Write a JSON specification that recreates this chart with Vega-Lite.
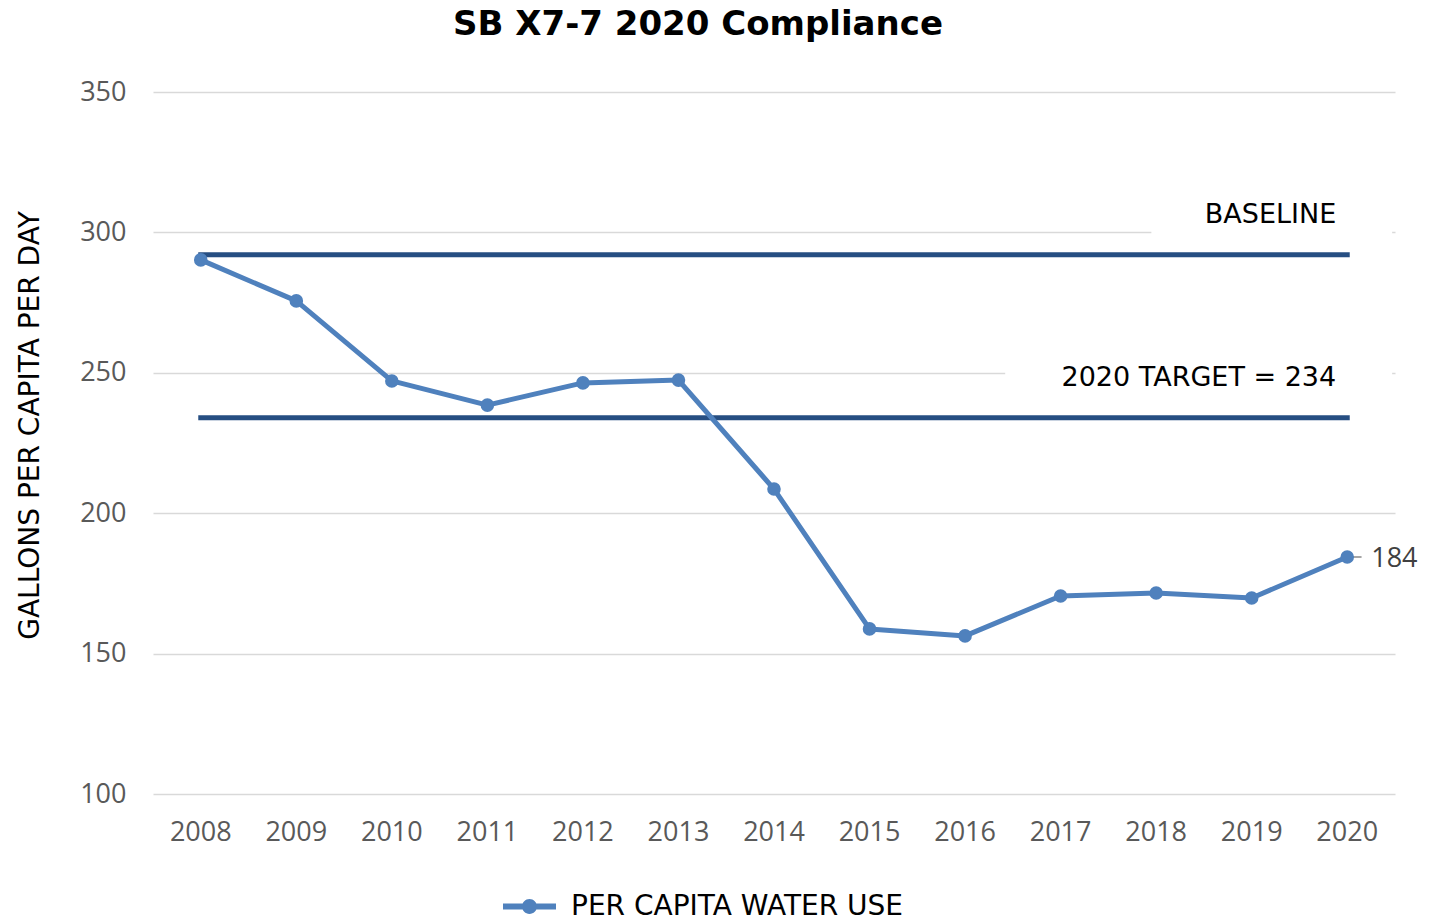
{
  "$schema": "https://vega.github.io/schema/vega-lite/v6.json",
  "width": 1242,
  "height": 702,
  "autosize": {"type": "none"},
  "padding": {"left": 153, "top": 92, "right": 44, "bottom": 126},
  "background": "#ffffff",
  "config": {"view": {"stroke": null}},
  "title": {
    "text": "SB X7-7 2020 Compliance",
    "font": "DejaVu Sans",
    "fontSize": 34,
    "fontWeight": "bold",
    "color": "#000000",
    "anchor": "middle",
    "frame": "group",
    "dx": -76,
    "offset": 36
  },
  "datasets": {
    "use": [
      {"year": "2008", "gpcd": 290.2},
      {"year": "2009", "gpcd": 275.6},
      {"year": "2010", "gpcd": 247.1},
      {"year": "2011", "gpcd": 238.5},
      {"year": "2012", "gpcd": 246.4},
      {"year": "2013", "gpcd": 247.4},
      {"year": "2014", "gpcd": 208.6},
      {"year": "2015", "gpcd": 158.8},
      {"year": "2016", "gpcd": 156.3},
      {"year": "2017", "gpcd": 170.5},
      {"year": "2018", "gpcd": 171.6},
      {"year": "2019", "gpcd": 169.8},
      {"year": "2020", "gpcd": 184.4}
    ],
    "refs": [
      {"year": "2008", "ref": "BASELINE", "gpcd": 292},
      {"year": "2020", "ref": "BASELINE", "gpcd": 292},
      {"year": "2008", "ref": "TARGET", "gpcd": 234},
      {"year": "2020", "ref": "TARGET", "gpcd": 234}
    ],
    "reflabels": [
      {"year": "2020", "label": "BASELINE", "gpcd": 292},
      {"year": "2020", "label": "2020 TARGET = 234", "gpcd": 234}
    ]
  },
  "layer": [
    {
      "data": {"values": [{"start": "2018", "end": "2020", "lo": 297, "hi": 303}]},
      "mark": {"type": "rect", "color": "#ffffff"},
      "encoding": {
        "x": {"field": "start", "type": "ordinal", "bandPosition": 0.45},
        "x2": {"field": "end", "bandPosition": 0.97},
        "y": {"field": "lo", "type": "quantitative"},
        "y2": {"field": "hi"}
      }
    },
    {
      "data": {"values": [{"start": "2016", "end": "2020", "lo": 247, "hi": 253}]},
      "mark": {"type": "rect", "color": "#ffffff"},
      "encoding": {
        "x": {"field": "start", "type": "ordinal", "bandPosition": 0.92},
        "x2": {"field": "end", "bandPosition": 0.97},
        "y": {"field": "lo", "type": "quantitative"},
        "y2": {"field": "hi"}
      }
    },
    {
      "data": {"name": "refs"},
      "mark": {"type": "line", "color": "#264E82", "strokeWidth": 5, "strokeCap": "square"},
      "encoding": {
        "x": {"field": "year", "type": "ordinal"},
        "y": {"field": "gpcd", "type": "quantitative"},
        "detail": {"field": "ref"}
      }
    },
    {
      "data": {"name": "reflabels"},
      "mark": {"type": "text", "align": "right", "baseline": "alphabetic", "dx": -11, "dy": -32, "font": "DejaVu Sans", "fontSize": 27, "color": "#000000"},
      "encoding": {
        "x": {"field": "year", "type": "ordinal"},
        "y": {"field": "gpcd", "type": "quantitative"},
        "text": {"field": "label"}
      }
    },
    {
      "data": {"name": "use"},
      "transform": [{"filter": "datum.year == '2020'"}],
      "mark": {"type": "rule", "color": "#A6A6A6", "strokeWidth": 2},
      "encoding": {
        "x": {"field": "year", "type": "ordinal", "bandPosition": 0.5},
        "x2": {"field": "year", "bandPosition": 0.65},
        "y": {"field": "gpcd", "type": "quantitative"}
      }
    },
    {
      "data": {"name": "use"},
      "mark": {"type": "line", "strokeWidth": 5, "strokeJoin": "round"},
      "encoding": {
        "x": {"field": "year", "type": "ordinal"},
        "y": {"field": "gpcd", "type": "quantitative"},
        "color": {
          "datum": "PER CAPITA WATER USE",
          "type": "nominal",
          "scale": {"range": ["#4F81BD"]},
          "legend": {
            "title": null,
            "orient": "none",
            "legendX": 350,
            "legendY": 788,
            "padding": 0,
            "symbolType": "M-1,-0.11L1,-0.11L1,0.11L-1,0.11Z M0.28,0A0.28,0.28 0 1,1 -0.28,0A0.28,0.28 0 1,1 0.28,0Z",
            "symbolSize": 2809,
            "symbolStrokeWidth": 0,
            "symbolFillColor": "#4F81BD",
            "labelFont": "DejaVu Sans",
            "labelFontSize": 28,
            "labelColor": "#000000",
            "labelOffset": 15,
            "labelLimit": 0,
            "encode": {
              "symbols": {
                "update": {
                  "fill": {"value": "#4F81BD"},
                  "strokeWidth": {"value": 0},
                  "opacity": {"value": 1}
                }
              }
            }
          }
        }
      }
    },
    {
      "data": {"name": "use"},
      "mark": {"type": "point", "filled": true, "size": 185, "color": "#4F81BD", "opacity": 1},
      "encoding": {
        "x": {"field": "year", "type": "ordinal"},
        "y": {"field": "gpcd", "type": "quantitative"}
      }
    },
    {
      "data": {"name": "use"},
      "transform": [{"filter": "datum.year == '2020'"}],
      "mark": {"type": "text", "align": "left", "baseline": "middle", "dx": 24, "dy": 2, "font": "Open Sans", "fontSize": 27, "color": "#404040"},
      "encoding": {
        "x": {"field": "year", "type": "ordinal"},
        "y": {"field": "gpcd", "type": "quantitative"},
        "text": {"field": "gpcd", "format": ".0f"}
      }
    }
  ],
  "resolve": {"scale": {"x": "shared", "y": "shared"}},
  "encoding": {
    "x": {
      "field": "year",
      "type": "ordinal",
      "scale": {"type": "band", "paddingInner": 0, "paddingOuter": 0, "domain": ["2008","2009","2010","2011","2012","2013","2014","2015","2016","2017","2018","2019","2020"]},
      "axis": {
        "title": null,
        "labelAngle": 0,
        "domain": false,
        "ticks": false,
        "tickSize": 0,
        "grid": false,
        "labelFont": "Open Sans",
        "labelFontSize": 27,
        "labelColor": "#595959",
        "labelPadding": 25
      }
    },
    "y": {
      "field": "gpcd",
      "type": "quantitative",
      "scale": {"domain": [100, 350], "nice": false, "zero": false},
      "axis": {
        "title": "GALLONS PER CAPITA PER DAY",
        "values": [100, 150, 200, 250, 300, 350],
        "domain": false,
        "ticks": false,
        "tickSize": 0,
        "grid": true,
        "gridColor": "#D9D9D9",
        "gridWidth": 1.5,
        "labelFont": "Open Sans",
        "labelFontSize": 27,
        "labelColor": "#595959",
        "labelPadding": 27,
        "titleFont": "DejaVu Sans",
        "titleFontSize": 28,
        "titleFontWeight": "normal",
        "titleColor": "#000000",
        "titleAngle": -90,
        "titleAlign": "center",
        "titleBaseline": "middle",
        "titleX": -123,
        "titleY": 333
      }
    }
  }
}
